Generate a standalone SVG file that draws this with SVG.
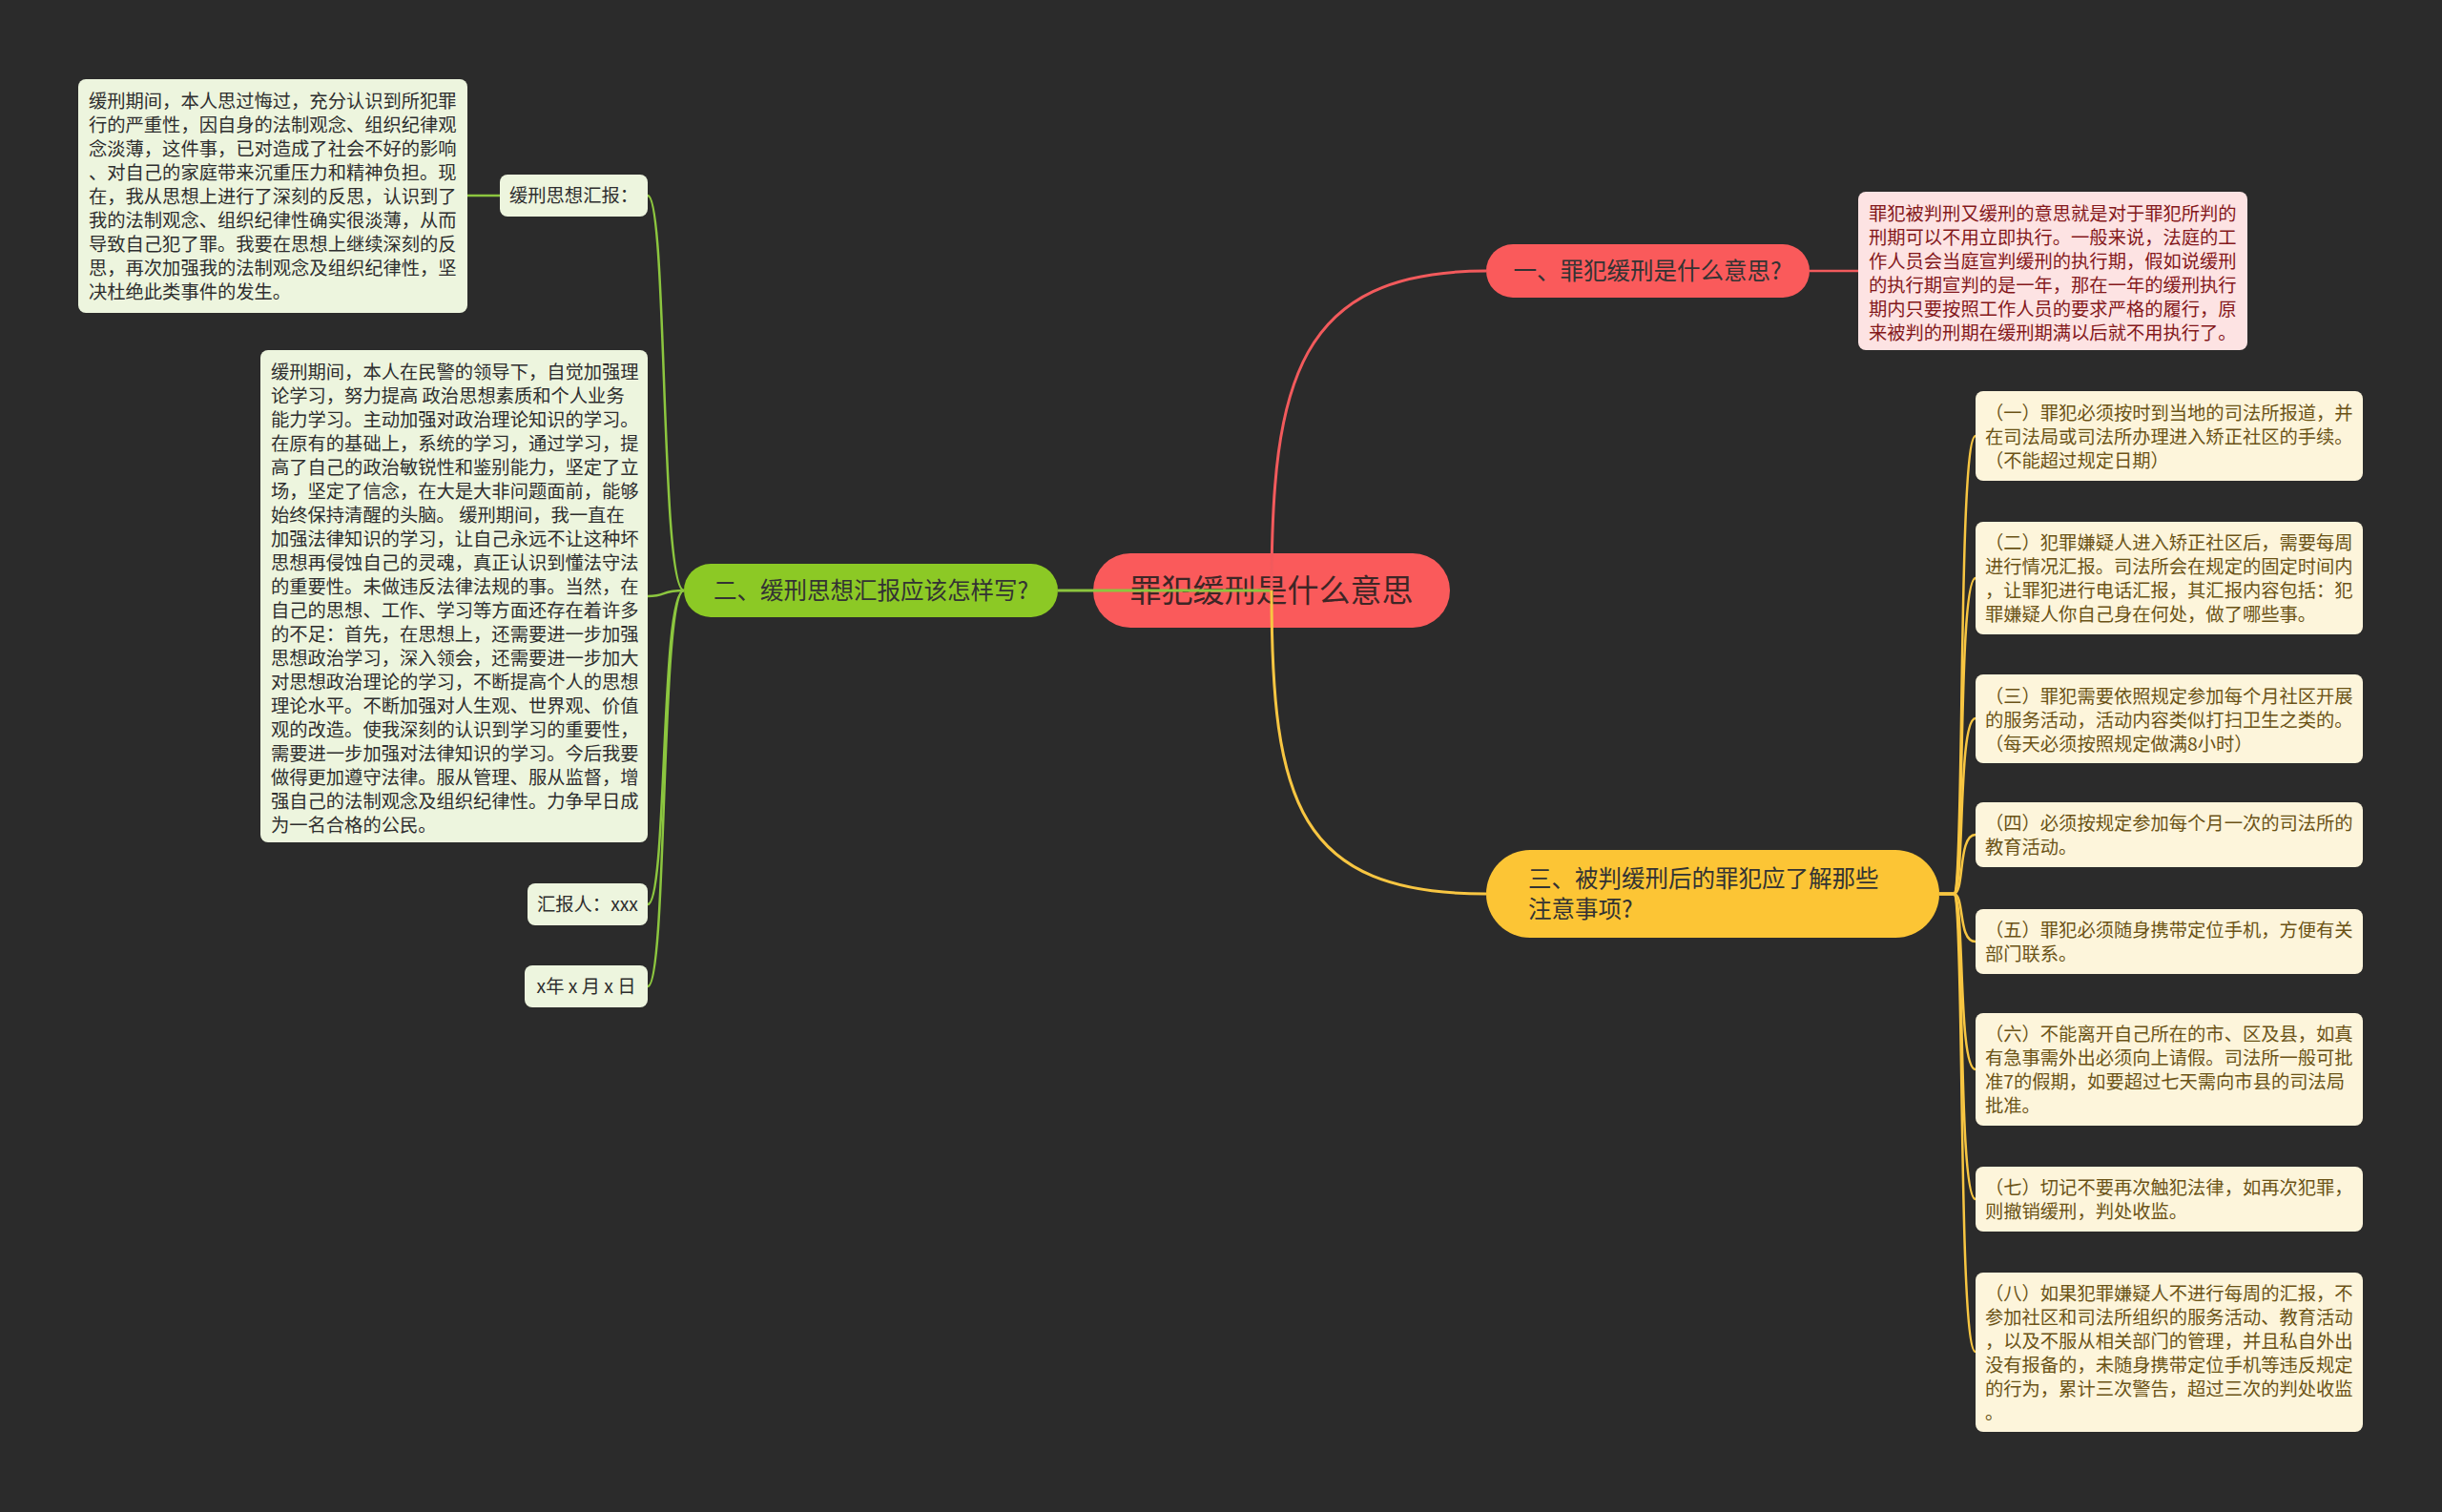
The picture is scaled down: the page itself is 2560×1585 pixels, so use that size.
<svg xmlns="http://www.w3.org/2000/svg" width="2560" height="1585" viewBox="0 0 2560 1585">
<style>
text{font-family:"Noto Sans CJK SC","Noto Sans",sans-serif;}
.t{font-size:19.3px;}
.g{fill:#edf5de;}
.gt{fill:#2e2e2e;}
.y{fill:#fdf5db;}
.yt{fill:#6b5316;}
.p{fill:#fde3e3;}
.pt{fill:#84181b;}
.main{font-size:24.5px;fill:#333333;}
.cg{stroke:#8cc63f;fill:none;}
.cr{stroke:#f25a5c;fill:none;}
.cy{stroke:#f8c642;fill:none;}
</style>
<rect width="2560" height="1585" fill="#2b2b2b"/>

<g id="center">
<rect x="1146" y="580" width="374" height="78" rx="39" fill="#fa5a5b"/>
<text x="1333" y="631" text-anchor="middle" style="font-size:33px;fill:#3e2626">罪犯缓刑是什么意思</text>
</g>

<g id="n1">
<rect x="1558" y="256" width="339" height="56" rx="28" fill="#fa5a5b"/>
<text class="main" x="1727" y="293" text-anchor="middle">一、罪犯缓刑是什么意思?</text>
</g>

<g id="n1a">
<rect class="p" x="1948" y="201" width="408" height="166" rx="8"/>
<text class="t pt" x="1959" y="231">罪犯被判刑又缓刑的意思就是对于罪犯所判的</text>
<text class="t pt" x="1959" y="256">刑期可以不用立即执行。一般来说，法庭的工</text>
<text class="t pt" x="1959" y="281">作人员会当庭宣判缓刑的执行期，假如说缓刑</text>
<text class="t pt" x="1959" y="306">的执行期宣判的是一年，那在一年的缓刑执行</text>
<text class="t pt" x="1959" y="331">期内只要按照工作人员的要求严格的履行，原</text>
<text class="t pt" x="1959" y="356">来被判的刑期在缓刑期满以后就不用执行了。</text>
</g>

<g id="n2">
<rect x="717" y="591" width="392" height="56" rx="28" fill="#8cc925"/>
<text class="main" x="913" y="628" text-anchor="middle">二、缓刑思想汇报应该怎样写?</text>
</g>

<g id="n2a">
<rect class="g" x="524" y="183" width="155" height="44" rx="8"/>
<text class="t gt" x="601.5" y="212" text-anchor="middle">缓刑思想汇报：</text>
</g>

<g id="n2a1">
<rect class="g" x="82" y="83" width="408" height="245" rx="8"/>
<text class="t gt" x="93" y="113">缓刑期间，本人思过悔过，充分认识到所犯罪</text>
<text class="t gt" x="93" y="138">行的严重性，因自身的法制观念、组织纪律观</text>
<text class="t gt" x="93" y="163">念淡薄，这件事，已对造成了社会不好的影响</text>
<text class="t gt" x="93" y="188">、对自己的家庭带来沉重压力和精神负担。现</text>
<text class="t gt" x="93" y="213">在，我从思想上进行了深刻的反思，认识到了</text>
<text class="t gt" x="93" y="238">我的法制观念、组织纪律性确实很淡薄，从而</text>
<text class="t gt" x="93" y="263">导致自己犯了罪。我要在思想上继续深刻的反</text>
<text class="t gt" x="93" y="288">思，再次加强我的法制观念及组织纪律性，坚</text>
<text class="t gt" x="93" y="313">决杜绝此类事件的发生。</text>
</g>

<g id="n2b">
<rect class="g" x="273" y="367" width="406" height="516" rx="8"/>
<text class="t gt" x="284" y="397">缓刑期间，本人在民警的领导下，自觉加强理</text>
<text class="t gt" x="284" y="422">论学习，努力提高 政治思想素质和个人业务</text>
<text class="t gt" x="284" y="447">能力学习。主动加强对政治理论知识的学习。</text>
<text class="t gt" x="284" y="472">在原有的基础上，系统的学习，通过学习，提</text>
<text class="t gt" x="284" y="497">高了自己的政治敏锐性和鉴别能力，坚定了立</text>
<text class="t gt" x="284" y="522">场，坚定了信念，在大是大非问题面前，能够</text>
<text class="t gt" x="284" y="547">始终保持清醒的头脑。 缓刑期间，我一直在</text>
<text class="t gt" x="284" y="572">加强法律知识的学习，让自己永远不让这种坏</text>
<text class="t gt" x="284" y="597">思想再侵蚀自己的灵魂，真正认识到懂法守法</text>
<text class="t gt" x="284" y="622">的重要性。未做违反法律法规的事。当然，在</text>
<text class="t gt" x="284" y="647">自己的思想、工作、学习等方面还存在着许多</text>
<text class="t gt" x="284" y="672">的不足：首先，在思想上，还需要进一步加强</text>
<text class="t gt" x="284" y="697">思想政治学习，深入领会，还需要进一步加大</text>
<text class="t gt" x="284" y="722">对思想政治理论的学习，不断提高个人的思想</text>
<text class="t gt" x="284" y="747">理论水平。不断加强对人生观、世界观、价值</text>
<text class="t gt" x="284" y="772">观的改造。使我深刻的认识到学习的重要性，</text>
<text class="t gt" x="284" y="797">需要进一步加强对法律知识的学习。今后我要</text>
<text class="t gt" x="284" y="822">做得更加遵守法律。服从管理、服从监督，增</text>
<text class="t gt" x="284" y="847">强自己的法制观念及组织纪律性。力争早日成</text>
<text class="t gt" x="284" y="872">为一名合格的公民。</text>
</g>

<g id="n2c">
<rect class="g" x="553" y="926" width="126" height="44" rx="8"/>
<text class="t gt" x="616" y="955" text-anchor="middle">汇报人：xxx</text>
</g>

<g id="n2d">
<rect class="g" x="550" y="1012" width="129" height="44" rx="8"/>
<text class="t gt" x="614.5" y="1041" text-anchor="middle">x年 x 月 x 日</text>
</g>

<g id="n3">
<rect x="1558" y="891" width="475" height="92" rx="46" fill="#fcc535"/>
<text class="main" x="1602" y="930">三、被判缓刑后的罪犯应了解那些</text>
<text class="main" x="1602" y="962">注意事项?</text>
</g>

<g id="n3a">
<rect class="y" x="2071" y="410" width="406" height="94" rx="8"/>
<text class="t yt" x="2081" y="440">（一）罪犯必须按时到当地的司法所报道，并</text>
<text class="t yt" x="2081" y="465">在司法局或司法所办理进入矫正社区的手续。</text>
<text class="t yt" x="2081" y="490">（不能超过规定日期）</text>
</g>
<g id="n3b">
<rect class="y" x="2071" y="547" width="406" height="118" rx="8"/>
<text class="t yt" x="2081" y="576">（二）犯罪嫌疑人进入矫正社区后，需要每周</text>
<text class="t yt" x="2081" y="601">进行情况汇报。司法所会在规定的固定时间内</text>
<text class="t yt" x="2081" y="626">，让罪犯进行电话汇报，其汇报内容包括：犯</text>
<text class="t yt" x="2081" y="651">罪嫌疑人你自己身在何处，做了哪些事。</text>
</g>
<g id="n3c">
<rect class="y" x="2071" y="707" width="406" height="93" rx="8"/>
<text class="t yt" x="2081" y="737">（三）罪犯需要依照规定参加每个月社区开展</text>
<text class="t yt" x="2081" y="762">的服务活动，活动内容类似打扫卫生之类的。</text>
<text class="t yt" x="2081" y="787">（每天必须按照规定做满8小时）</text>
</g>
<g id="n3d">
<rect class="y" x="2071" y="841" width="406" height="68" rx="8"/>
<text class="t yt" x="2081" y="870">（四）必须按规定参加每个月一次的司法所的</text>
<text class="t yt" x="2081" y="895">教育活动。</text>
</g>
<g id="n3e">
<rect class="y" x="2071" y="953" width="406" height="68" rx="8"/>
<text class="t yt" x="2081" y="982">（五）罪犯必须随身携带定位手机，方便有关</text>
<text class="t yt" x="2081" y="1007">部门联系。</text>
</g>
<g id="n3f">
<rect class="y" x="2071" y="1062" width="406" height="118" rx="8"/>
<text class="t yt" x="2081" y="1091">（六）不能离开自己所在的市、区及县，如真</text>
<text class="t yt" x="2081" y="1116">有急事需外出必须向上请假。司法所一般可批</text>
<text class="t yt" x="2081" y="1141">准7的假期，如要超过七天需向市县的司法局</text>
<text class="t yt" x="2081" y="1166">批准。</text>
</g>
<g id="n3g">
<rect class="y" x="2071" y="1223" width="406" height="68" rx="8"/>
<text class="t yt" x="2081" y="1252">（七）切记不要再次触犯法律，如再次犯罪，</text>
<text class="t yt" x="2081" y="1277">则撤销缓刑，判处收监。</text>
</g>
<g id="n3h">
<rect class="y" x="2071" y="1334" width="406" height="167" rx="8"/>
<text class="t yt" x="2081" y="1363">（八）如果犯罪嫌疑人不进行每周的汇报，不</text>
<text class="t yt" x="2081" y="1388">参加社区和司法所组织的服务活动、教育活动</text>
<text class="t yt" x="2081" y="1413">，以及不服从相关部门的管理，并且私自外出</text>
<text class="t yt" x="2081" y="1438">没有报备的，未随身携带定位手机等违反规定</text>
<text class="t yt" x="2081" y="1463">的行为，累计三次警告，超过三次的判处收监</text>
<text class="t yt" x="2081" y="1488">。</text>
</g>

<g id="connectors">
<path class="cg" stroke-width="3" d="M1333,619 L1109,619"/>
<path class="cg" stroke-width="2.5" d="M717,619 C692,619 700,205 679,205"/>
<path class="cg" stroke-width="2.5" d="M717,619 C692,619 700,625 679,625"/>
<path class="cg" stroke-width="2.5" d="M717,619 C692,619 700,948 679,948"/>
<path class="cg" stroke-width="2.5" d="M717,619 C692,619 700,1034 679,1034"/>
<path class="cg" stroke-width="2.5" d="M524,205 L490,205"/>
<path class="cr" stroke-width="3" d="M1333,619 C1333,400 1360,284 1558,284"/>
<path class="cr" stroke-width="2.5" d="M1897,284 L1948,284"/>
<path class="cy" stroke-width="3" d="M1333,619 C1333,840 1360,937 1558,937"/>
<path class="cy" stroke-width="2.5" d="M2033,937 L2048,937 C2060,937 2052,457 2071,457"/>
<path class="cy" stroke-width="2.5" d="M2033,937 L2048,937 C2060,937 2052,606 2071,606"/>
<path class="cy" stroke-width="2.5" d="M2033,937 L2048,937 C2060,937 2052,753 2071,753"/>
<path class="cy" stroke-width="2.5" d="M2033,937 L2048,937 C2060,937 2052,875 2071,875"/>
<path class="cy" stroke-width="2.5" d="M2033,937 L2048,937 C2060,937 2052,987 2071,987"/>
<path class="cy" stroke-width="2.5" d="M2033,937 L2048,937 C2060,937 2052,1121 2071,1121"/>
<path class="cy" stroke-width="2.5" d="M2033,937 L2048,937 C2060,937 2052,1257 2071,1257"/>
<path class="cy" stroke-width="2.5" d="M2033,937 L2048,937 C2060,937 2052,1417 2071,1417"/>
</g>
</svg>
